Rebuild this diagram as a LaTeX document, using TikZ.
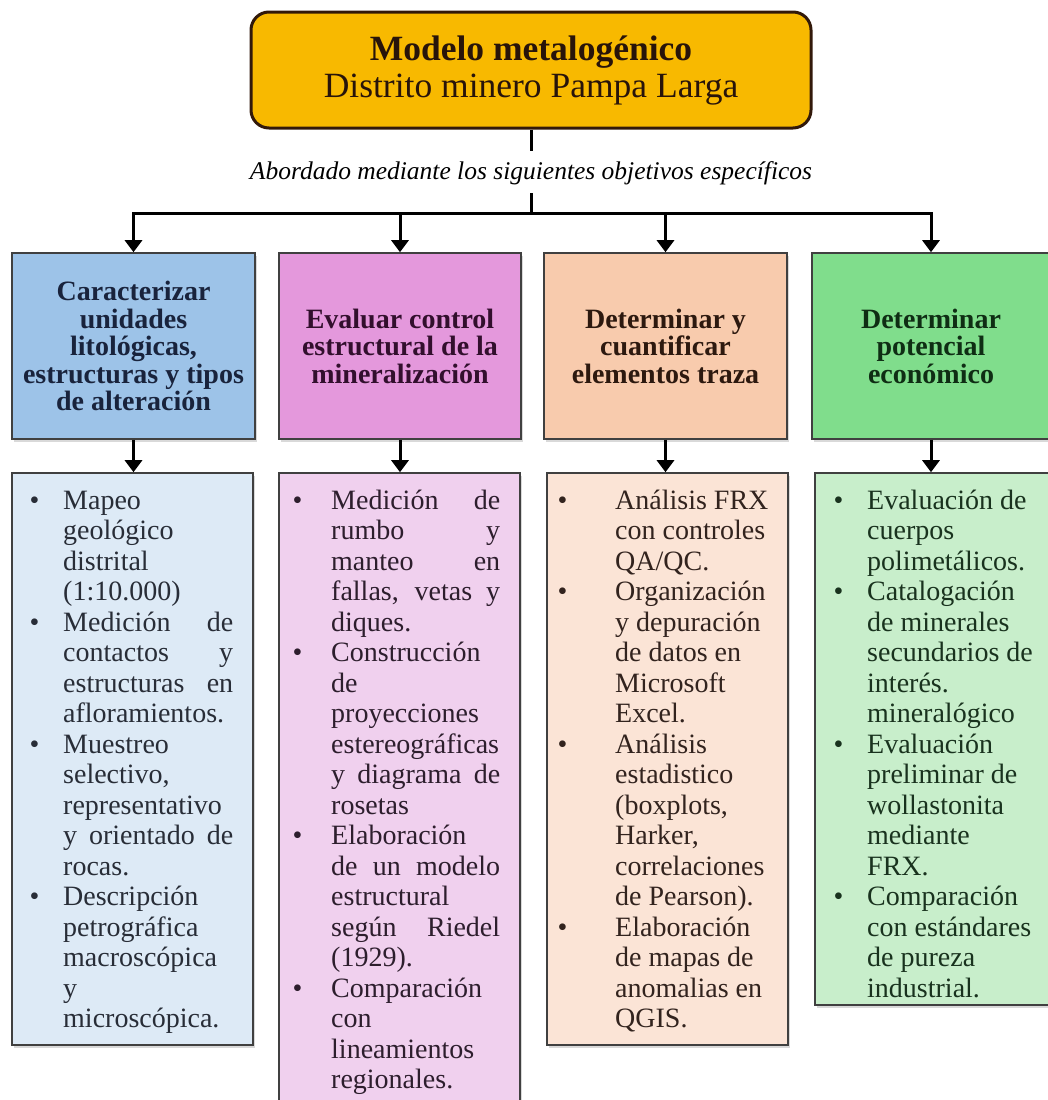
\documentclass[tikz,border=0pt]{standalone}
\usepackage{fontspec}
\setmainfont{Liberation Serif}
\usepackage{array}
\usetikzlibrary{arrows.meta,shadows}

\definecolor{topfill}{RGB}{248,185,0}
\definecolor{hblue}{RGB}{157,195,232}
\definecolor{hpink}{RGB}{228,152,220}
\definecolor{horange}{RGB}{248,203,173}
\definecolor{hgreen}{RGB}{128,221,140}
\definecolor{lblue}{RGB}{221,234,246}
\definecolor{lpink}{RGB}{240,208,238}
\definecolor{lorange}{RGB}{251,228,214}
\definecolor{lgreen}{RGB}{200,238,203}
\definecolor{tblue}{RGB}{25,35,60}
\definecolor{tpink}{RGB}{50,15,45}
\definecolor{torange}{RGB}{45,25,15}
\definecolor{tgreen}{RGB}{15,45,20}

\newcommand{\jus}[1]{\makebox[\linewidth][s]{#1}}

\begin{document}
\begin{tikzpicture}[x=1pt,y=-1pt,
  conn/.style={line width=3pt,black},
  arr/.style={conn,-{Triangle[length=12pt,width=17pt]}},
  topbox/.style={draw={rgb,255:red,50;green,25;blue,10},line width=3pt,fill=topfill,rounded corners=18pt,
    minimum width=560pt,minimum height=116pt,inner sep=0pt,align=center,
    text={rgb,255:red,40;green,20;blue,10},font=\fontsize{35.5}{37}\selectfont},
  hdr/.style={draw=black!75,line width=1.6pt,minimum height=186pt,inner sep=0pt,
    align=center,font=\bfseries\fontsize{28}{27.5}\selectfont,
    drop shadow={shadow xshift=1.5pt,shadow yshift=-3pt,opacity=.3}},
  lowbox/.style={draw=black!75,line width=1.6pt,inner sep=0pt,
    drop shadow={shadow xshift=1.5pt,shadow yshift=-3pt,opacity=.3}},
  lst/.style={anchor=base west,inner sep=0pt,font=\fontsize{28}{30.5}\selectfont}]
  \useasboundingbox (0,0) rectangle (1047,1100);

  \node[topbox] (modelo) at (531,70) {\textbf{Modelo metalogénico}\\Distrito minero Pampa Larga};
  \node[inner sep=0pt,minimum height=43pt,font=\itshape\fontsize{25.5}{28}\selectfont] (abordado) at (531,173)
    {Abordado mediante los siguientes objetivos específicos};
  \coordinate (bar) at (531,213);

  \node[hdr,fill=hblue,text=tblue,minimum width=243pt] (carac) at (133.5,346)
    {Caracterizar\\unidades\\litológicas,\\estructuras y tipos\\de alteración};
  \node[hdr,fill=hpink,text=tpink,minimum width=242pt] (evaluar) at (400,346)
    {Evaluar control\\estructural de la\\mineralización};
  \node[hdr,fill=horange,text=torange,minimum width=243pt] (determ) at (665.5,346)
    {Determinar y\\cuantificar\\elementos traza};
  \node[hdr,fill=hgreen,text=tgreen,minimum width=238pt] (potenc) at (931,346)
    {Determinar\\potencial\\económico};

  \node[lowbox,fill=lblue,minimum width=241pt,minimum height=572pt] (mapeo) at (132.5,759) {};
  \node[lowbox,fill=lpink,minimum width=241pt,minimum height=633pt] (medicion) at (399.5,789.5) {};
  \node[lowbox,fill=lorange,minimum width=241pt,minimum height=572pt] (analisis) at (667.5,759) {};
  \node[lowbox,fill=lgreen,minimum width=237pt,minimum height=532pt] (evaluacion) at (933.5,739) {};

  \draw[conn] (modelo) -- (abordado);
  \draw[conn,line cap=rect] (abordado) -- (bar);
  \draw[conn,line cap=rect] (carac.north |- bar) -- (potenc.north |- bar);
  \draw[arr] (carac.north |- bar) -- (carac);
  \draw[arr] (evaluar.north |- bar) -- (evaluar);
  \draw[arr] (determ.north |- bar) -- (determ);
  \draw[arr] (potenc.north |- bar) -- (potenc);
  \draw[arr] (carac) -- (carac.south |- mapeo.north);
  \draw[arr] (evaluar) -- (evaluar.south |- medicion.north);
  \draw[arr] (determ) -- (determ.south |- analisis.north);
  \draw[arr] (potenc) -- (potenc.south |- evaluacion.north);

  \node[lst,text={rgb,255:red,40;green,45;blue,55}] (mapeo-txt) at (29.3,509) {%
    \begin{tabular}[t]{@{}p{33.7pt}@{}p{170pt}@{}}
      \textbullet & Mapeo\\
       & geológico\\
       & distrital\\
       & (1:10.000)\\
      \textbullet & \jus{Medición de}\\
       & \jus{contactos y}\\
       & \jus{estructuras en}\\
       & afloramientos.\\
      \textbullet & Muestreo\\
       & selectivo,\\
       & representativo\\
       & \jus{y orientado de}\\
       & rocas.\\
      \textbullet & Descripción\\
       & petrográfica\\
       & macroscópica\\
       & y\\
       & microscópica.
    \end{tabular}};
  \node[lst,text={rgb,255:red,45;green,30;blue,45}] (medicion-txt) at (292.3,509) {%
    \begin{tabular}[t]{@{}p{38.7pt}@{}p{169pt}@{}}
      \textbullet & \jus{Medición de}\\
       & \jus{rumbo y}\\
       & \jus{manteo en}\\
       & \jus{fallas, vetas y}\\
       & diques.\\
      \textbullet & Construcción\\
       & de\\
       & proyecciones\\
       & estereográficas\\
       & \jus{y diagrama de}\\
       & rosetas\\
      \textbullet & Elaboración\\
       & \jus{de un modelo}\\
       & estructural\\
       & \jus{según Riedel}\\
       & (1929).\\
      \textbullet & Comparación\\
       & con\\
       & lineamientos\\
       & regionales.
    \end{tabular}};
  \node[lst,text={rgb,255:red,50;green,35;blue,30}] (analisis-txt) at (557.3,509) {%
    \begin{tabular}[t]{@{}p{57.7pt}@{}p{158pt}@{}}
      \textbullet & Análisis FRX\\
       & con controles\\
       & QA/QC.\\
      \textbullet & Organización\\
       & y depuración\\
       & de datos en\\
       & Microsoft\\
       & Excel.\\
      \textbullet & Análisis\\
       & estadistico\\
       & (boxplots,\\
       & Harker,\\
       & correlaciones\\
       & de Pearson).\\
      \textbullet & Elaboración\\
       & de mapas de\\
       & anomalias en\\
       & QGIS.
    \end{tabular}};
  \node[lst,text={rgb,255:red,25;green,50;blue,30}] (evaluacion-txt) at (833.3,509) {%
    \begin{tabular}[t]{@{}p{33.7pt}@{}p{170pt}@{}}
      \textbullet & Evaluación de\\
       & cuerpos\\
       & polimetálicos.\\
      \textbullet & Catalogación\\
       & de minerales\\
       & secundarios de\\
       & interés.\\
       & mineralógico\\
      \textbullet & Evaluación\\
       & preliminar de\\
       & wollastonita\\
       & mediante\\
       & FRX.\\
      \textbullet & Comparación\\
       & con estándares\\
       & de pureza\\
       & industrial.
    \end{tabular}};
\end{tikzpicture}
\end{document}
